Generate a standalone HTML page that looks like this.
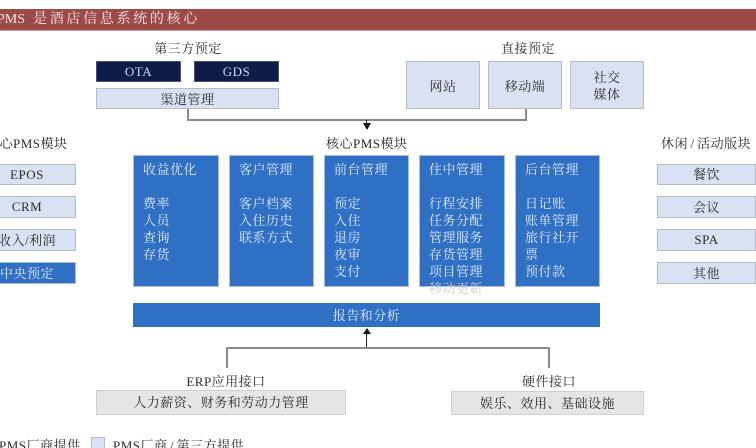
<!DOCTYPE html>
<html><head><meta charset="utf-8"><style>
html,body{margin:0;padding:0;background:#fff}
#p{position:relative;width:756px;height:448px;overflow:hidden;background:#fff;font-family:"Liberation Serif","Noto Serif CJK SC",serif;font-size:13px;color:#2a2a2a;letter-spacing:.5px;filter:blur(.3px)}
#p div{position:absolute;white-space:nowrap;box-sizing:border-box}
.c{text-align:center}
.l{background:#d9e2f2;border:1px solid #b4bccb;display:flex;align-items:center;justify-content:center;text-align:center}
.u{padding-bottom:2px}
.n{background:#0f1c4a;color:#d5d9e4;border:1px solid #4a5478;text-align:center;line-height:19px}
.g{background:#e5e5e5;border:1px solid #cfcfcf;text-align:center}
.b{background:#3070c4;border:1px solid #a9bedb;color:#e3ebf6;top:155px;height:132px;line-height:17px;padding:5px 0 0 9px;overflow:visible!important}
.ln{background:#8a8a8a}
.s{margin:0 2.5px}
</style></head><body><div id="p">
<div style="left:0;top:9px;width:756px;height:22px;background:#9b4a46;border-bottom:1px solid #c9a09d"></div>
<div style="left:-3px;top:10px;line-height:20px;font-size:14px;letter-spacing:0;color:#f3e9e8">PMS</div>
<div style="left:33px;top:10px;line-height:20px;font-size:14px;letter-spacing:2.7px;color:#f3e9e8">是酒店信息系统的核心</div>

<div class="c" style="left:138px;width:100px;top:40px;line-height:17px">第三方预定</div>
<div class="c" style="left:478px;width:100px;top:40px;line-height:17px">直接预定</div>
<div class="n" style="left:96px;top:61px;width:85px;height:21px">OTA</div>
<div class="n" style="left:194px;top:61px;width:85px;height:21px">GDS</div>
<div class="l" style="left:96px;top:88px;width:183px;height:21px">渠道管理</div>
<div class="l" style="left:406px;top:61px;width:74px;height:48px">网站</div>
<div class="l" style="left:488px;top:61px;width:74px;height:48px">移动端</div>
<div class="l" style="left:570px;top:61px;width:74px;height:48px;white-space:normal;line-height:17px;padding-top:2px">社交<br>媒体</div>

<div class="ln" style="left:187px;top:109px;width:1.5px;height:11px"></div>
<div class="ln" style="left:525px;top:109px;width:1.5px;height:11px"></div>
<div class="ln" style="left:187px;top:119px;width:339.5px;height:1.5px"></div>
<div style="left:366px;top:120px;width:1.2px;height:5px;background:#222"></div>
<div style="left:362.6px;top:123px;width:0;height:0;border-left:4px solid transparent;border-right:4px solid transparent;border-top:7px solid #111"></div>

<div style="left:-14px;top:135px;line-height:17px">核心PMS模块</div>
<div style="left:326px;top:135px;line-height:17px">核心PMS模块</div>
<div style="left:661px;top:135px;line-height:17px">休闲<span class="s">/</span>活动版块</div>

<div class="l" style="left:-22px;top:164px;width:98px;height:21px">EPOS</div>
<div class="l" style="left:-22px;top:196px;width:98px;height:22px">CRM</div>
<div class="l u" style="left:-22px;top:229px;width:98px;height:22px">收入/利润</div>
<div class="l u" style="left:-22px;top:262px;width:98px;height:22px;background:#3070c4;border-color:#a9bedb;color:#e3ebf6">中央预定</div>

<div class="l u" style="left:657px;top:164px;width:99px;height:21px">餐饮</div>
<div class="l u" style="left:657px;top:196px;width:99px;height:22px">会议</div>
<div class="l" style="left:657px;top:229px;width:99px;height:22px">SPA</div>
<div class="l u" style="left:657px;top:262px;width:99px;height:22px">其他</div>

<div class="b" style="left:133px;width:86px">收益优化<br><br>费率<br>人员<br>查询<br>存货</div>
<div class="b" style="left:229px;width:85px">客户管理<br><br>客户档案<br>入住历史<br>联系方式</div>
<div class="b" style="left:324px;width:85px">前台管理<br><br>预定<br>入住<br>退房<br>夜审<br>支付</div>
<div class="b" style="left:419px;width:86px">住中管理<br><br>行程安排<br>任务分配<br>管理服务<br>存货管理<br>项目管理<br><span style="color:#c9ccd2">移动更新</span></div>
<div class="b" style="left:515px;width:85px">后台管理<br><br>日记账<br>账单管理<br>旅行社开<br>票<br>预付款</div>

<div class="c" style="left:133px;top:303px;width:467px;height:24px;line-height:25px;background:#3070c4;color:#e3ebf6">报告和分析</div>

<div class="ln" style="left:226px;top:347px;width:1.5px;height:21px"></div>
<div class="ln" style="left:548px;top:347px;width:1.5px;height:21px"></div>
<div class="ln" style="left:226px;top:347px;width:323.5px;height:1.5px"></div>
<div style="left:366px;top:333px;width:1.2px;height:14px;background:#222"></div>
<div style="left:362.6px;top:327.5px;width:0;height:0;border-left:4px solid transparent;border-right:4px solid transparent;border-bottom:6.5px solid #111"></div>

<div class="c" style="left:176px;width:100px;top:373px;line-height:17px">ERP应用接口</div>
<div class="c" style="left:499px;width:100px;top:373px;line-height:17px">硬件接口</div>
<div class="g" style="left:96px;top:390px;width:250px;height:25px;line-height:24px">人力薪资、财务和劳动力管理</div>
<div class="g" style="left:451px;top:391px;width:193px;height:24px;line-height:23px">娱乐、效用、基础设施</div>

<div style="left:-1px;top:437px;line-height:17px">PMS厂商提供</div>
<div style="left:91px;top:437px;width:14px;height:14px;background:#d9e2f2;border:1px solid #b4bccb"></div>
<div style="left:113px;top:437px;line-height:17px">PMS厂商<span class="s">/</span>第三方提供</div>
</div></body></html>
